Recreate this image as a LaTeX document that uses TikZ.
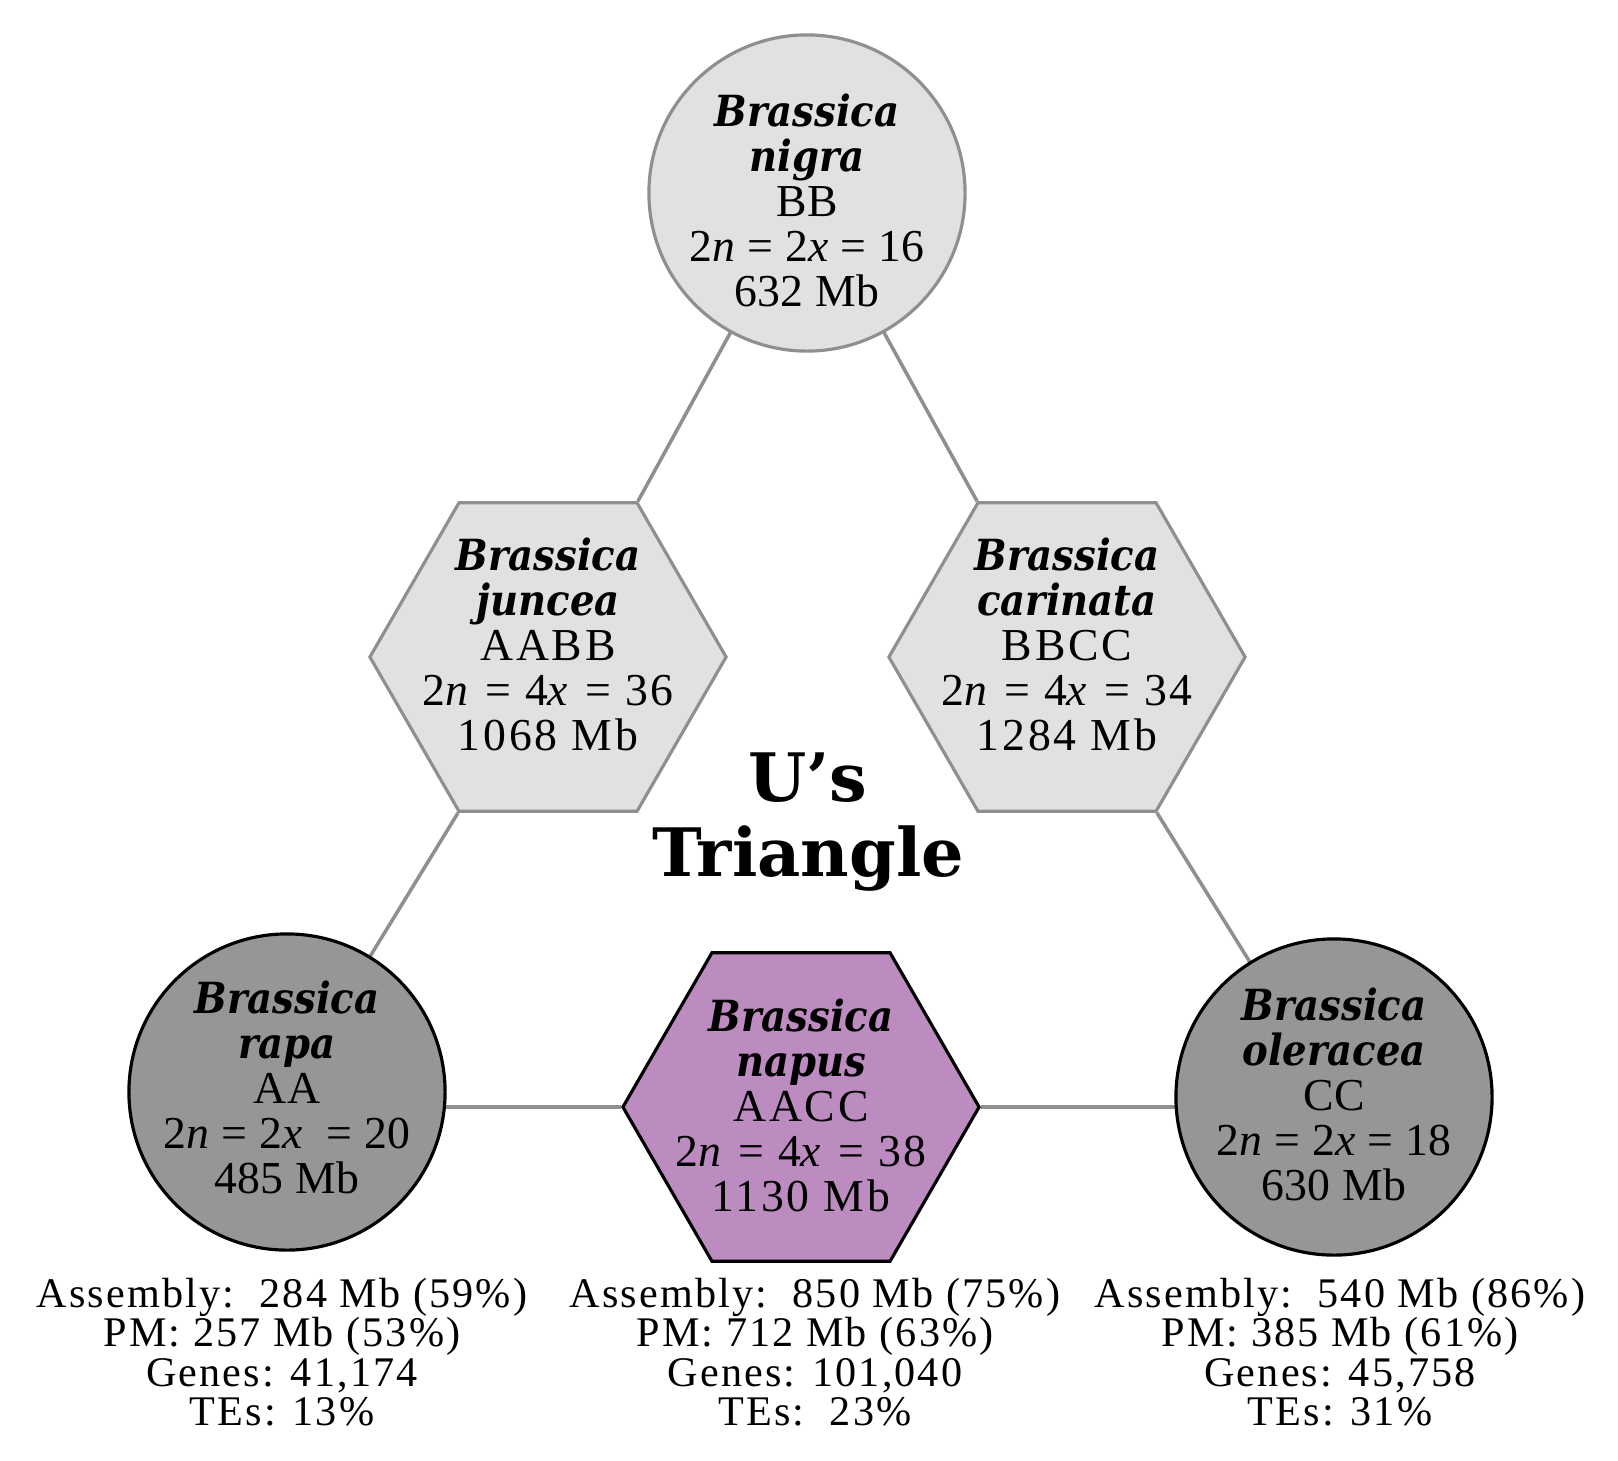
\documentclass[tikz,border=0pt]{standalone}
\usepackage{fontspec}
\setmainfont{Liberation Serif}
\newfontfamily\namefont[FakeStretch=0.9]{DejaVu Serif}
\newfontfamily\circfont[LetterSpace=1]{Liberation Serif}
\newfontfamily\hexfont[LetterSpace=6]{Liberation Serif}
\newfontfamily\sumfont[LetterSpace=5]{Liberation Serif}
\newfontfamily\titlefont{DejaVu Serif}
\usetikzlibrary{shapes.geometric,backgrounds}
\definecolor{lightfill}{RGB}{225,225,225}
\definecolor{edgegrey}{RGB}{143,143,143}
\definecolor{darkfill}{RGB}{150,150,150}
\definecolor{napusfill}{RGB}{188,139,191}
\newcommand{\spname}[1]{{\namefont\fontsize{12.2}{12.8}\selectfont\bfseries\itshape #1}}
\tikzset{
  circ/.style={circle, minimum size=3.16cm, inner sep=0pt},
  hexa/.style={regular polygon, regular polygon sides=6, minimum size=3.56cm, inner sep=0pt},
  lightsty/.style={fill=lightfill, draw=edgegrey, line width=0.9pt},
  darksty/.style={fill=darkfill, draw=black, line width=0.9pt},
  napussty/.style={fill=napusfill, draw=black, line width=0.9pt},
  ctxt/.style={align=center, inner sep=0pt, font=\circfont\fontsize{13}{12.8}\selectfont},
  htxt/.style={align=center, inner sep=0pt, font=\hexfont\fontsize{13}{12.8}\selectfont},
  summ/.style={align=center, inner sep=0pt, font=\sumfont\fontsize{12}{11.2}\selectfont},
  conn/.style={draw=edgegrey, line width=1pt}
}
\begin{document}
\begin{tikzpicture}[x=0.01cm,y=-0.01cm]
\useasboundingbox (0,0) rectangle (1618,1460);

\node[circ, lightsty] (nigra) at (807,193) {};
\node[hexa, lightsty] (juncea) at (548,657) {};
\node[hexa, lightsty] (carinata) at (1067,657) {};
\node[circ, darksty] (rapa) at (287,1092) {};
\node[circ, darksty] (oleracea) at (1334,1097) {};
\node[hexa, napussty] (napus) at (801,1107) {};

\begin{scope}[on background layer]
\fill[white] (0,0) rectangle (1618,1460);
\draw[conn] (juncea.60) -- (nigra.center);
\draw[conn] (carinata.120) -- (nigra.center);
\draw[conn] (juncea.240) -- (rapa.center);
\draw[conn] (carinata.300) -- (oleracea.center);
\draw[conn] (napus.180) -- (napus.180 -| rapa.center);
\draw[conn] (napus.0) -- (napus.0 -| oleracea.center);
\end{scope}

\node[ctxt] (nigratxt) at (807,200) {\spname{Brassica}\\\spname{nigra}\\BB\\2\textit{n} = 2\textit{x} = 16\\632 Mb};
\node[htxt] (junceatxt) at (548,644) {\spname{Brassica}\\\spname{juncea}\\AABB\\2\textit{n} = 4\textit{x} = 36\\1068 Mb};
\node[htxt] (carinatatxt) at (1067,644) {\spname{Brassica}\\\spname{carinata}\\BBCC\\2\textit{n} = 4\textit{x} = 34\\1284 Mb};
\node[ctxt] (rapatxt) at (287,1087) {\spname{Brassica}\\\spname{rapa}\\AA\\2\textit{n} = 2\textit{x}\ \ = 20\\485 Mb};
\node[htxt] (napustxt) at (801,1105) {\spname{Brassica}\\\spname{napus}\\AACC\\2\textit{n} = 4\textit{x} = 38\\1130 Mb};
\node[ctxt] (oleraceatxt) at (1334,1094) {\spname{Brassica}\\\spname{oleracea}\\CC\\2\textit{n} = 2\textit{x} = 18\\630 Mb};

\node[align=center, inner sep=0pt, font=\titlefont\bfseries\fontsize{19}{21.3}\selectfont] (title) at (808,822) {U’s\\Triangle};

\node[summ] (rapasum) at (282,1352) {Assembly:\ \ 284 Mb (59\%)\\PM: 257 Mb (53\%)\\Genes: 41,174\\TEs: 13\%};
\node[summ] (napussum) at (815,1352) {Assembly:\ \ 850 Mb (75\%)\\PM: 712 Mb (63\%)\\Genes: 101,040\\TEs:\ \ 23\%};
\node[summ] (oleraceasum) at (1340,1352) {Assembly:\ \ 540 Mb (86\%)\\PM: 385 Mb (61\%)\\Genes: 45,758\\TEs: 31\%};
\end{tikzpicture}
\end{document}
